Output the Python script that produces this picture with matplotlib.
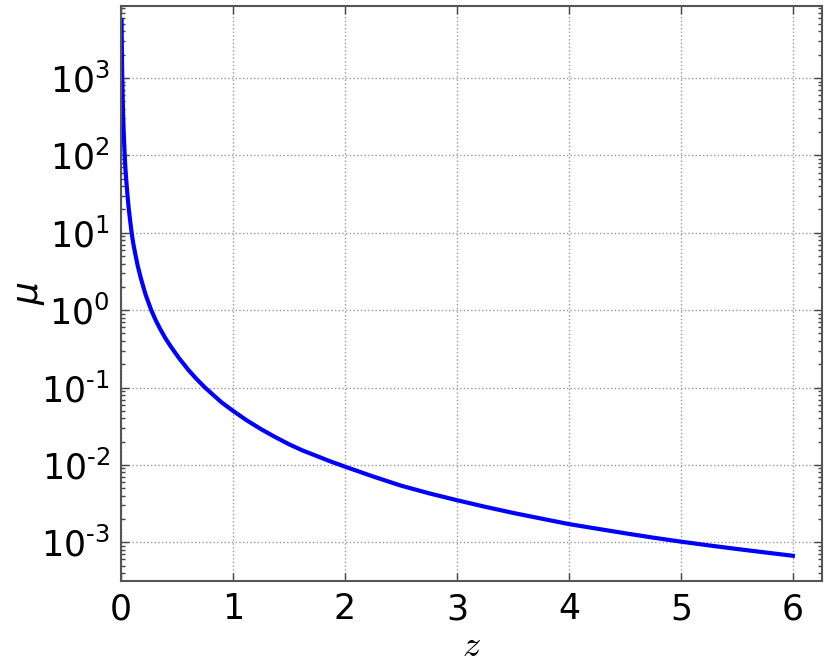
import math
import matplotlib
matplotlib.use("Agg")
import matplotlib.pyplot as plt
from matplotlib.ticker import FuncFormatter, LogLocator, FixedLocator

z = [0.005, 0.0065, 0.008, 0.01, 0.012, 0.016, 0.02, 0.026, 0.033, 0.04, 0.05,
     0.06, 0.07, 0.08, 0.095, 0.11, 0.13, 0.15, 0.18, 0.22, 0.27, 0.31, 0.35,
     0.4, 0.45, 0.52, 0.6, 0.67, 0.75, 0.82, 0.9, 1.0, 1.12, 1.25, 1.37, 1.5,
     1.62, 1.75, 1.87, 2.0, 2.25, 2.5, 2.75, 3.0, 3.25, 3.5, 3.75, 4.0, 4.25,
     4.5, 4.75, 5.0, 5.25, 5.5, 5.75, 6.0]
mu = [5600, 3300, 2100, 1300, 900, 480, 300, 170, 100, 65, 42,
      28, 20, 15, 10, 7.2, 5.1, 3.7, 2.5, 1.58, 1.0, 0.74, 0.57,
      0.425, 0.33, 0.238, 0.17, 0.131, 0.1, 0.081, 0.064, 0.05, 0.0379, 0.029, 0.0232, 0.0185,
      0.0154, 0.013, 0.0111, 0.0095, 0.0071, 0.0054, 0.0043, 0.0035, 0.00288, 0.0024, 0.00203, 0.00172, 0.0015,
      0.00131, 0.00115, 0.00102, 0.000912, 0.00082, 0.00074, 0.00067]

x_ticks = [0, 1, 2, 3, 4, 5, 6]
y_exps = [-3, -2, -1, 0, 1, 2, 3]

fig = plt.figure(figsize=(8.3, 6.69), dpi=100)
ax = fig.add_axes([121/830, 1-581/669, (822-121)/830, (581-6)/669])

ax.plot(z, mu, color="#0000ff", lw=3)
ax.set_yscale("log")
ax.set_xlim(0, 6.26)
ax.set_ylim(10**-3.5, 10**3.93)

ax.xaxis.set_major_locator(FixedLocator(x_ticks))
ax.yaxis.set_major_locator(FixedLocator([10.0**e for e in y_exps]))
ax.yaxis.set_minor_locator(LogLocator(base=10, subs=range(2, 10), numticks=50))

def yfmt(v, pos):
    e = int(round(math.log10(v)))
    if e < 0:
        return r"$\mathdefault{10^{\text{-}%d}}$" % (-e)
    return r"$\mathdefault{10^{%d}}$" % e

ax.yaxis.set_major_formatter(FuncFormatter(yfmt))
ax.xaxis.set_major_formatter(FuncFormatter(lambda v, p: "%d" % v))

ax.tick_params(which="both", direction="in", top=True, right=True, colors="#444444",
               labelcolor="black")
ax.tick_params(which="major", length=6, width=1, labelsize=25, pad=8)
ax.tick_params(which="minor", length=3, width=1)

for s in ax.spines.values():
    s.set_color("#555555")
    s.set_linewidth(1.5)

ax.grid(True, which="major", linestyle=":", color="#999999", linewidth=1)

ax.set_xlabel(r"$z$", fontsize=26, math_fontfamily="cm", labelpad=2)
ax.set_ylabel(r"$\mu$", fontsize=26, labelpad=-4)

fig.savefig("out.png", dpi=100)
